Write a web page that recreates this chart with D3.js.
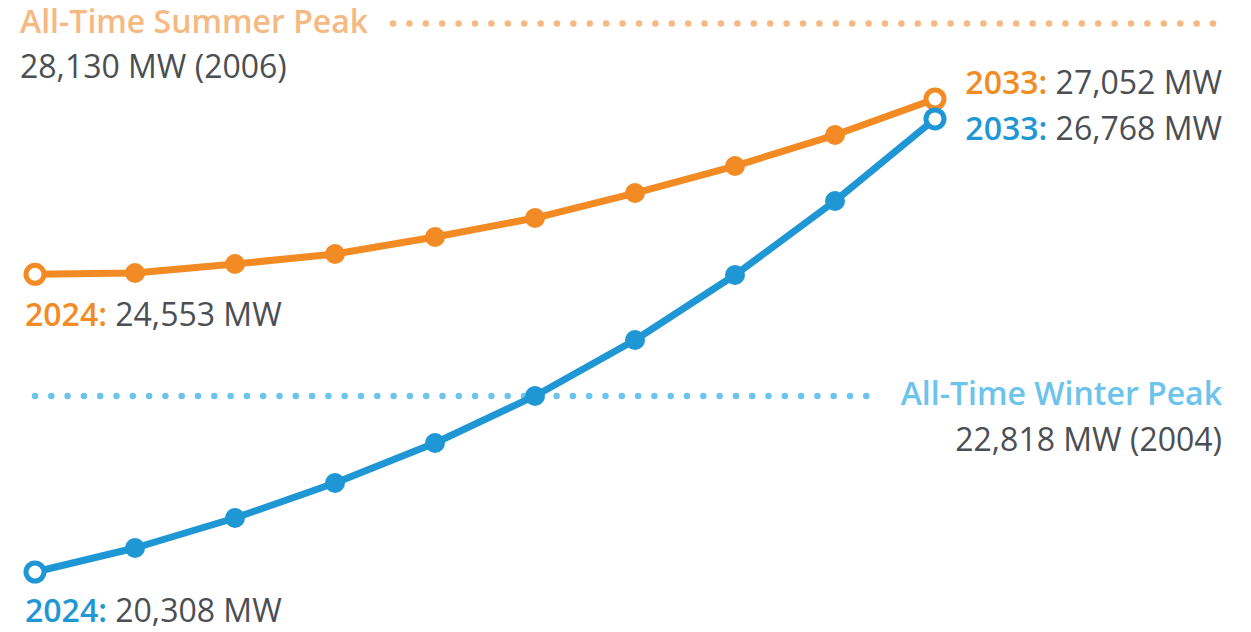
<!DOCTYPE html>
<html>
<head>
<meta charset="utf-8">
<script src="https://cdn.jsdelivr.net/npm/d3@7"></script>
<style>
  html, body { margin: 0; padding: 0; background: #fff; }
  svg text { font-family: "Open Sans", sans-serif; }
</style>
</head>
<body>
<div id="chart"></div>
<script>
const years = [2024, 2025, 2026, 2027, 2028, 2029, 2030, 2031, 2032, 2033];
const summerLoad = [24553, 24571, 24699, 24842, 25084, 25355, 25711, 26096, 26538, 27052];
const winterLoad = [20308, 20650, 21078, 21577, 22147, 22818, 23616, 24543, 25597, 26768];
const summerPeak = { value: 28130, year: 2006 };
const winterPeak = { value: 22818, year: 2004 };

const orange = "#f28b23", orangeLight = "#f6b982";
const blue = "#1f97d4", blueLight = "#6cc3ec";
const gray = "#4b4f54";

const width = 1251, height = 632;
const fmt = d3.format(",");

const svg = d3.select("#chart")
  .append("svg")
  .attr("width", width)
  .attr("height", height);

const xScale = d3.scalePoint()
  .domain(years)
  .range([35, 935]);

const yScale = d3.scaleLinear()
  .domain([20308, 27052])
  .range([572, 99]);

// peak reference lines (dotted)
svg.append("line")
  .attr("x1", 393).attr("x2", 1225)
  .attr("y1", yScale(summerPeak.value)).attr("y2", yScale(summerPeak.value))
  .attr("stroke", orangeLight)
  .attr("stroke-width", 6.5)
  .attr("stroke-linecap", "round")
  .attr("stroke-dasharray", "0 16.4");

svg.append("line")
  .attr("x1", 35).attr("x2", 880)
  .attr("y1", yScale(winterPeak.value)).attr("y2", yScale(winterPeak.value))
  .attr("stroke", blueLight)
  .attr("stroke-width", 6.5)
  .attr("stroke-linecap", "round")
  .attr("stroke-dasharray", "0 16.3");

const series = [
  { name: "summer", values: summerLoad, color: orange },
  { name: "winter", values: winterLoad, color: blue }
];

const line = d3.line()
  .x((d, i) => xScale(years[i]))
  .y(d => yScale(d));

for (const s of series) {
  const g = svg.append("g").attr("class", s.name);
  g.append("path")
    .datum(s.values)
    .attr("fill", "none")
    .attr("stroke", s.color)
    .attr("stroke-width", 7)
    .attr("stroke-linejoin", "round")
    .attr("d", line);

  const last = s.values.length - 1;
  g.selectAll("circle")
    .data(s.values)
    .enter()
    .append("circle")
    .attr("cx", (d, i) => xScale(years[i]))
    .attr("cy", d => yScale(d))
    .attr("r", (d, i) => (i == 0 || i == last) ? 9 : 10)
    .attr("fill", (d, i) => (i == 0 || i == last) ? "#fff" : s.color)
    .attr("stroke", s.color)
    .attr("stroke-width", (d, i) => (i == 0 || i == last) ? 5 : 0);
}

// labels
function label(x, y, anchor, parts) {
  const t = svg.append("text")
    .attr("x", x).attr("y", y)
    .attr("text-anchor", anchor)
    .attr("font-size", 32);
  for (const p of parts) {
    t.append("tspan")
      .attr("fill", p.color)
      .attr("font-weight", p.bold ? 600 : 400)
      .text(p.text);
  }
}

label(20, 33, "start", [{ text: "All-Time Summer Peak", color: orangeLight, bold: true }]);
label(20, 78, "start", [{ text: `${fmt(summerPeak.value)} MW (${summerPeak.year})`, color: gray }]);

label(1222, 94, "end", [
  { text: `${years[9]}: `, color: orange, bold: true },
  { text: `${fmt(summerLoad[9])} MW`, color: gray }
]);
label(1222, 140, "end", [
  { text: `${years[9]}: `, color: blue, bold: true },
  { text: `${fmt(winterLoad[9])} MW`, color: gray }
]);
label(25, 326, "start", [
  { text: `${years[0]}: `, color: orange, bold: true },
  { text: `${fmt(summerLoad[0])} MW`, color: gray }
]);
label(25, 622, "start", [
  { text: `${years[0]}: `, color: blue, bold: true },
  { text: `${fmt(winterLoad[0])} MW`, color: gray }
]);

label(1222, 405, "end", [{ text: "All-Time Winter Peak", color: blueLight, bold: true }]);
label(1222, 451, "end", [{ text: `${fmt(winterPeak.value)} MW (${winterPeak.year})`, color: gray }]);
</script>
</body>
</html>
